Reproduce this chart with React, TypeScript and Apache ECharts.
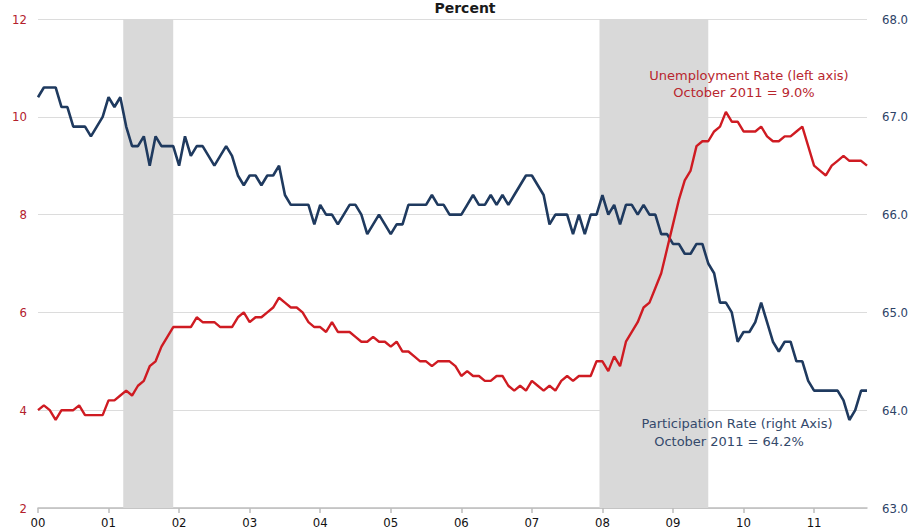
import React, { useEffect, useRef } from "react";
import * as echarts from "echarts";

// Monthly, Jan 2000 – Oct 2011
const startYear = 2000;
const endYear = 2011;
const lastMonth = 10;

const yearTickLabels = ["00", "01", "02", "03", "04", "05", "06", "07", "08", "09", "10", "11"];

// Unemployment rate, percent (left axis)
const unemploymentRate = [
  // 2000
  4.0, 4.1, 4.0, 3.8, 4.0, 4.0, 4.0, 4.1, 3.9, 3.9, 3.9, 3.9,
  // 2001
  4.2, 4.2, 4.3, 4.4, 4.3, 4.5, 4.6, 4.9, 5.0, 5.3, 5.5, 5.7,
  // 2002
  5.7, 5.7, 5.7, 5.9, 5.8, 5.8, 5.8, 5.7, 5.7, 5.7, 5.9, 6.0,
  // 2003
  5.8, 5.9, 5.9, 6.0, 6.1, 6.3, 6.2, 6.1, 6.1, 6.0, 5.8, 5.7,
  // 2004
  5.7, 5.6, 5.8, 5.6, 5.6, 5.6, 5.5, 5.4, 5.4, 5.5, 5.4, 5.4,
  // 2005
  5.3, 5.4, 5.2, 5.2, 5.1, 5.0, 5.0, 4.9, 5.0, 5.0, 5.0, 4.9,
  // 2006
  4.7, 4.8, 4.7, 4.7, 4.6, 4.6, 4.7, 4.7, 4.5, 4.4, 4.5, 4.4,
  // 2007
  4.6, 4.5, 4.4, 4.5, 4.4, 4.6, 4.7, 4.6, 4.7, 4.7, 4.7, 5.0,
  // 2008
  5.0, 4.8, 5.1, 4.9, 5.4, 5.6, 5.8, 6.1, 6.2, 6.5, 6.8, 7.3,
  // 2009
  7.8, 8.3, 8.7, 8.9, 9.4, 9.5, 9.5, 9.7, 9.8, 10.1, 9.9, 9.9,
  // 2010
  9.7, 9.7, 9.7, 9.8, 9.6, 9.5, 9.5, 9.6, 9.6, 9.7, 9.8, 9.4,
  // 2011
  9.0, 8.9, 8.8, 9.0, 9.1, 9.2, 9.1, 9.1, 9.1, 9.0,
];

// Labor force participation rate, percent (right axis)
const participationRate = [
  // 2000
  67.2, 67.3, 67.3, 67.3, 67.1, 67.1, 66.9, 66.9, 66.9, 66.8, 66.9, 67.0,
  // 2001
  67.2, 67.1, 67.2, 66.9, 66.7, 66.7, 66.8, 66.5, 66.8, 66.7, 66.7, 66.7,
  // 2002
  66.5, 66.8, 66.6, 66.7, 66.7, 66.6, 66.5, 66.6, 66.7, 66.6, 66.4, 66.3,
  // 2003
  66.4, 66.4, 66.3, 66.4, 66.4, 66.5, 66.2, 66.1, 66.1, 66.1, 66.1, 65.9,
  // 2004
  66.1, 66.0, 66.0, 65.9, 66.0, 66.1, 66.1, 66.0, 65.8, 65.9, 66.0, 65.9,
  // 2005
  65.8, 65.9, 65.9, 66.1, 66.1, 66.1, 66.1, 66.2, 66.1, 66.1, 66.0, 66.0,
  // 2006
  66.0, 66.1, 66.2, 66.1, 66.1, 66.2, 66.1, 66.2, 66.1, 66.2, 66.3, 66.4,
  // 2007
  66.4, 66.3, 66.2, 65.9, 66.0, 66.0, 66.0, 65.8, 66.0, 65.8, 66.0, 66.0,
  // 2008
  66.2, 66.0, 66.1, 65.9, 66.1, 66.1, 66.0, 66.1, 66.0, 66.0, 65.8, 65.8,
  // 2009
  65.7, 65.7, 65.6, 65.6, 65.7, 65.7, 65.5, 65.4, 65.1, 65.1, 65.0, 64.7,
  // 2010
  64.8, 64.8, 64.9, 65.1, 64.9, 64.7, 64.6, 64.7, 64.7, 64.5, 64.5, 64.3,
  // 2011
  64.2, 64.2, 64.2, 64.2, 64.2, 64.1, 63.9, 64.0, 64.2, 64.2,
];

// Recession periods (shaded)
const recessions = [
  { start: "2001-03", end: "2001-11" },
  { start: "2007-12", end: "2009-06" },
];

const months: string[] = [];
for (let y = startYear; y <= endYear; y++) {
  for (let m = 1; m <= 12; m++) {
    if (y === endYear && m > lastMonth) break;
    months.push(`${y}-${m < 10 ? "0" + m : m}`);
  }
}

const axisFont = "'DejaVu Sans Condensed', 'DejaVu Sans', sans-serif";
const textFont = "'DejaVu Sans', sans-serif";

function textEl(text: string, x: number, y: number, fill: string, font: string, vAlign = "middle") {
  return {
    type: "text",
    x,
    y,
    z: 100,
    zlevel: 0,
    style: {
      text,
      fill,
      font,
      align: "center",
      verticalAlign: vAlign,
      textAlign: "center",
      textVerticalAlign: vAlign,
    },
  };
}

export default function App() {
  const ref = useRef<HTMLDivElement>(null);

  useEffect(() => {
    if (!ref.current) return;
    const chart = echarts.init(ref.current, null, { renderer: "svg" });

    const shadeData = recessions.map((r) => [
      { xAxis: months.indexOf(r.start) + 0.5 },
      { xAxis: months.indexOf(r.end) + 1 },
    ]);

    chart.setOption({
      animation: false,
      backgroundColor: "#ffffff",
      grid: { left: 38, top: 19, width: 829, height: 489, containLabel: false },
      xAxis: [
        {
          type: "category",
          data: months,
          boundaryGap: false,
          axisLine: { show: true, lineStyle: { color: "#bdbdbd", width: 1.5 } },
          axisTick: {
            show: true,
            interval: (i: number) => i % 12 === 0,
            length: 5,
            lineStyle: { color: "#bdbdbd", width: 1.5 },
          },
          axisLabel: {
            interval: (i: number) => i % 12 === 0,
            formatter: (_v: string, i: number) => yearTickLabels[Math.floor(i / 12)] ?? "",
            color: "#111111",
            fontSize: 13,
            fontFamily: axisFont,
            margin: 8,
          },
          splitLine: { show: false },
        },
        {
          type: "value",
          min: 0,
          max: months.length - 1,
          show: false,
        },
      ],
      yAxis: [
        {
          type: "value",
          min: 2,
          max: 12,
          interval: 2,
          position: "left",
          axisLine: { show: false },
          axisTick: { show: false },
          axisLabel: {
            color: "#b3202c",
            fontSize: 13,
            fontFamily: axisFont,
            margin: 11,
          },
          splitLine: { show: true, lineStyle: { color: "#dcdcdc", width: 1.2 } },
        },
        {
          type: "value",
          min: 63,
          max: 68,
          interval: 1,
          position: "right",
          axisLine: { show: false },
          axisTick: { show: false },
          axisLabel: {
            color: "#2d4266",
            fontSize: 13,
            fontFamily: axisFont,
            margin: 15,
            formatter: (v: number) => v.toFixed(1),
          },
          splitLine: { show: false },
        },
      ],
      series: [
        {
          name: "Recession",
          type: "line",
          xAxisIndex: 1,
          yAxisIndex: 0,
          data: [],
          silent: true,
          z: 1,
          markArea: {
            silent: true,
            itemStyle: { color: "#d9d9d9" },
            data: shadeData,
          },
        },
        {
          name: "Participation Rate",
          type: "line",
          xAxisIndex: 0,
          yAxisIndex: 1,
          data: participationRate,
          symbol: "none",
          lineStyle: { color: "#1f3a5f", width: 2.6 },
          z: 3,
        },
        {
          name: "Unemployment Rate",
          type: "line",
          xAxisIndex: 0,
          yAxisIndex: 0,
          data: unemploymentRate,
          symbol: "none",
          lineStyle: { color: "#cf1b22", width: 2.4 },
          z: 4,
        },
      ],
      graphic: [
        textEl("Percent", 465, 1, "#1a1a1a", `bold 14px ${textFont}`, "top"),
        textEl("Unemployment Rate (left axis)", 749, 75, "#b8262e", `13px ${textFont}`),
        textEl("October 2011 = 9.0%", 744, 92, "#b8262e", `13px ${textFont}`),
        textEl("Participation Rate (right Axis)", 737, 423, "#34496b", `13px ${textFont}`),
        textEl("October 2011 = 64.2%", 729, 441, "#34496b", `13px ${textFont}`),
      ],
    });

    return () => {
      chart.dispose();
    };
  }, []);

  return (
    <div
      ref={ref}
      style={{ position: "fixed", left: 0, top: 0, width: 915, height: 531, background: "#fff" }}
    />
  );
}
